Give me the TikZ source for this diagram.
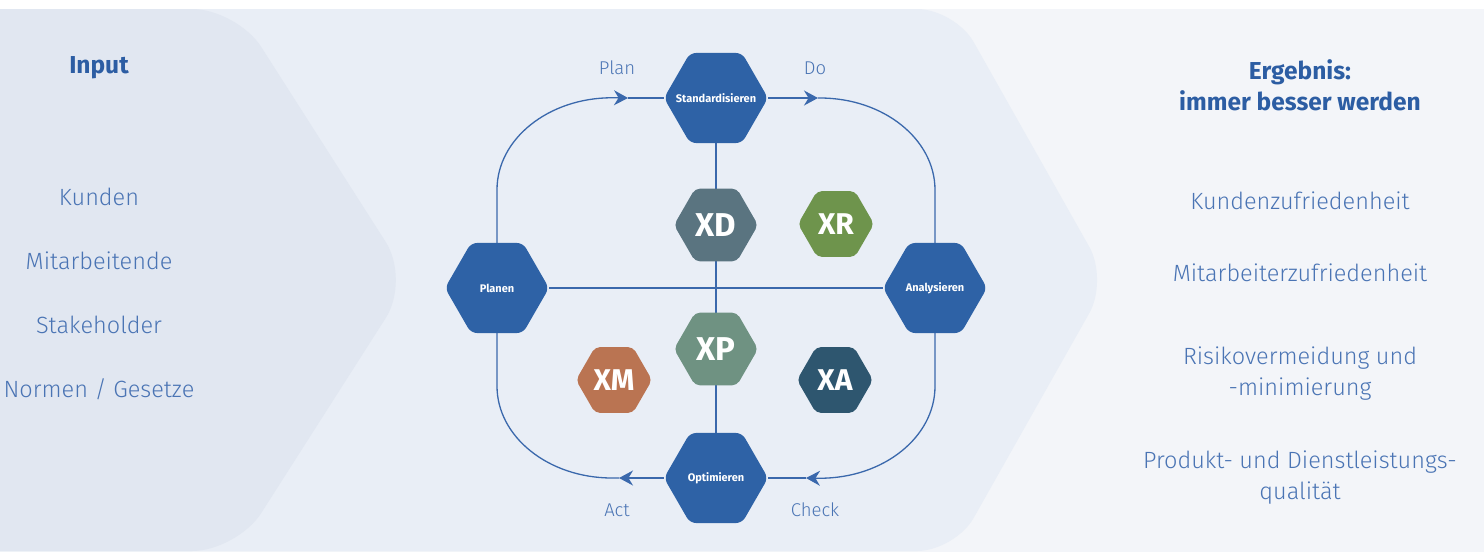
\documentclass[tikz,border=0pt]{standalone}
\usepackage{fontspec}
\setmainfont{Fira Sans}
\newfontfamily\thinfont{Fira Sans Light}
\usetikzlibrary{shapes.geometric,arrows.meta}
\definecolor{PDCAbg}{RGB}{243,245,249}
\definecolor{PDCAmid}{RGB}{233,238,246}
\definecolor{PDCAleft}{RGB}{225,231,241}
\definecolor{PDCAblue}{RGB}{46,98,166}
\definecolor{PDCAline}{RGB}{58,104,172}
\definecolor{PDCAtext}{RGB}{74,116,180}
\definecolor{PDCAhead}{RGB}{44,93,163}
\definecolor{XDslate}{RGB}{90,116,128}
\definecolor{XRgreen}{RGB}{110,148,76}
\definecolor{XPsage}{RGB}{111,146,130}
\definecolor{XMrust}{RGB}{186,116,82}
\definecolor{XAteal}{RGB}{46,86,111}
\pgfdeclarelayer{back}
\pgfdeclarelayer{wires}
\pgfsetlayers{back,wires,main}
\tikzstyle{PDCAhex}=[regular polygon, regular polygon sides=6, minimum size=104pt, inner sep=0pt, fill=PDCAblue, rounded corners=6pt]
\tikzstyle{PDCAhexlabel}=[inner sep=0pt, text=white, font=\bfseries\fontsize{11}{13}\selectfont]
\tikzstyle{PDCAx}=[regular polygon, regular polygon sides=6, minimum size=84pt, inner sep=0pt, rounded corners=5pt, text=white, font=\bfseries\fontsize{33}{35}\selectfont]
\tikzstyle{PDCAxs}=[PDCAx, minimum size=76pt, font=\bfseries\fontsize{30}{32}\selectfont]
\tikzstyle{PDCAflow}=[draw=PDCAline, line width=1.3pt]
\tikzstyle{PDCAtip}=[-{Stealth[length=14pt, width=15pt]}]
\tikzstyle{PDCAstep}=[text=PDCAtext, font=\thinfont\fontsize{18.5}{21}\selectfont]
\tikzstyle{PDCAitem}=[text=PDCAtext, font=\thinfont\fontsize{23.5}{31}\selectfont, align=center]
\tikzstyle{PDCAheading}=[text=PDCAhead, font=\bfseries\fontsize{24.5}{31}\selectfont, align=center]

\begin{document}
\begin{tikzpicture}[x=1pt, y=-1pt]
    \path [use as bounding box] (0,0) rectangle (1484,552);
    \clip (0,0) rectangle (1484,552);
    % backdrop: page, middle chevron, left chevron
    \begin{pgfonlayer}{back}
        \fill [white] (0,0) rectangle (1484,552);
        \fill [PDCAbg] (0,9) rectangle (1484,552);
        \fill [PDCAmid, rounded corners=38pt] (-80,9) -- (955,9) -- (1108,280) -- (955,551) -- (-80,551) -- cycle;
        \fill [PDCAleft, rounded corners=45pt] (-80,9) -- (237,9) -- (410,280) -- (237,551) -- (-80,551) -- cycle;
    \end{pgfonlayer}

    % input column
    \node [PDCAheading] (input) at (99,68) {Input};
    \foreach \t [count=\i] in {Kunden, Mitarbeitende, Stakeholder, Normen / Gesetze}
        \node [PDCAitem] (in\i) at (99,133+64*\i) {\t};

    % result column
    \node [PDCAheading] (result) at (1300,85) {Ergebnis:\\immer besser werden};
    \node [PDCAitem] (out1) at (1300,201) {Kundenzufriedenheit};
    \node [PDCAitem] (out2) at (1300,273) {Mitarbeiterzufriedenheit};
    \node [PDCAitem] (out3) at (1300,374) {Risikovermeidung und\\-minimierung};
    \node [PDCAitem] (out4) at (1300,478) {Produkt- und Dienstleistungs-\\qualit\"at};

    % cycle
    \node [PDCAhex, label={[PDCAhexlabel]center:Standardisieren}] (std)  at (716,98)  {};
    \node [PDCAhex, label={[PDCAhexlabel]center:Planen}]          (plan) at (497,288) {};
    \node [PDCAhex, label={[PDCAhexlabel]center:Analysieren}]     (ana)  at (935,288) {};
    \node [PDCAhex, label={[PDCAhexlabel]center:Optimieren}]      (opt)  at (716,478) {};

    \node [PDCAx, fill=XDslate]   (xd) at (716,225) {XD};
    \node [PDCAxs, fill=XRgreen]  (xr) at (836,224) {XR};
    \node [PDCAx, fill=XPsage]    (xp) at (716,349) {XP};
    \node [PDCAxs, fill=XMrust]   (xm) at (614,380) {XM};
    \node [PDCAxs, fill=XAteal]   (xa) at (835,380) {XA};

    \coordinate (a1) at (628,98);
    \coordinate (a2) at (818,98);
    \coordinate (a3) at (806,478);
    \coordinate (a4) at (619,478);

    \node [PDCAstep] (plantxt)  at (617,68)  {Plan};
    \node [PDCAstep] (dotxt)    at (815,68)  {Do};
    \node [PDCAstep] (checktxt) at (815,510) {Check};
    \node [PDCAstep] (acttxt)   at (617,510) {Act};

    \begin{pgfonlayer}{wires}
        \draw [PDCAflow] (plan.east) -- (ana.west);
        \draw [PDCAflow] (std.south) -- (opt.north);
        \draw [PDCAflow, PDCAtip] (plan.north) -- ++(0,-53) arc [start angle=180, end angle=270, x radius=115, y radius=92] -- (a1);
        \draw [PDCAflow] (a1) -- (std.west);
        \draw [PDCAflow, PDCAtip] (std.east) -- (a2);
        \draw [PDCAflow] (a2) -- ++(2,0) arc [start angle=-90, end angle=0, x radius=115, y radius=92] -- (ana.north);
        \draw [PDCAflow, PDCAtip] (ana.south) -- ++(0,53) arc [start angle=0, end angle=90, x radius=115, y radius=92] -- (a3);
        \draw [PDCAflow] (a3) -- (opt.east);
        \draw [PDCAflow, PDCAtip] (opt.west) -- (a4);
        \draw [PDCAflow] (a4) -- ++(-7,0) arc [start angle=90, end angle=180, x radius=115, y radius=92] -- (plan.south);
    \end{pgfonlayer}
\end{tikzpicture}
\end{document}
